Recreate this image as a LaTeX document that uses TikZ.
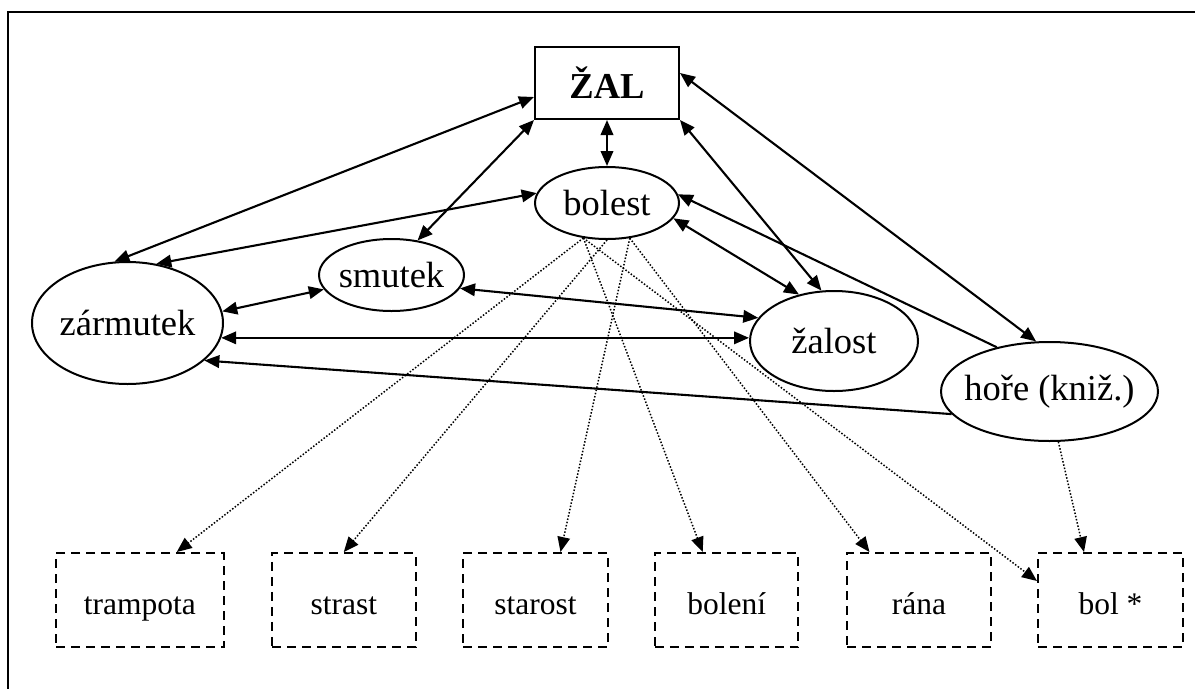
\documentclass[tikz,border=0pt]{standalone}
\usepackage{fontspec}
\setmainfont{Liberation Serif}
\usetikzlibrary{arrows.meta,shapes.geometric,calc}
\begin{document}
\begin{tikzpicture}[x=1pt,y=-1pt,
  tip/.style={-{Triangle[length=15pt,width=12.5pt]}},
  both/.style={{Triangle[length=15pt,width=12.5pt]}-{Triangle[length=15pt,width=12.5pt]}},
  conn/.style={line width=2.1pt},
  dot/.style={line width=1.5pt, dash pattern=on 1.5pt off 1.8pt},
  ell/.style={ellipse, draw, line width=2pt, inner sep=0pt, font=\fontsize{36.5}{40}\selectfont},
  wbox/.style={draw, line width=2pt, dash pattern=on 9pt off 6pt, minimum height=94pt, inner sep=0pt,
               text height=32pt, text depth=4pt, font=\fontsize{31.5}{34}\selectfont},
]
\useasboundingbox (0,0) rectangle (1195,689);
\draw[line width=2.2pt] (1195,12) -- (8,12) -- (8,689);

\node[draw, line width=2pt, minimum width=144pt, minimum height=72pt, inner sep=0pt,
      font=\bfseries\fontsize{36.5}{40}\selectfont] (zal) at (607,83) {ŽAL};
\node[ell, minimum width=144pt, minimum height=72pt] (bolest) at (607,203) {\makebox[0pt]{bolest}};
\node[ell, minimum width=145pt, minimum height=72pt] (smutek) at (391.5,275) {\makebox[0pt]{smutek}};
\node[ell, minimum width=191pt, minimum height=122pt] (zarm) at (127.5,323) {\makebox[0pt]{zármutek}};
\node[ell, minimum width=168pt, minimum height=100pt] (zalost) at (834,341) {\makebox[0pt]{\raisebox{-9pt}{žalost}}};
\node[ell, minimum width=217pt, minimum height=99pt] (hore) at (1049.5,391.5) {\makebox[0pt]{\raisebox{-13pt}{hoře (kniž.)}}};

\node[wbox, minimum width=167.5pt] (tramp) at (139.75,600) {trampota};
\node[wbox, minimum width=143.6pt] (strast) at (343.8,600) {strast};
\node[wbox, minimum width=145pt] (starost) at (535.5,600) {starost};
\node[wbox, minimum width=143.5pt] (boleni) at (726.7,600) {bolení};
\node[wbox, minimum width=144pt] (rana) at (919,600) {rána};
\node[wbox, minimum width=145pt] (bol) at (1110.5,600) {bol *};

\draw[conn,both] ([yshift=-14pt]zal.west) -- (zarm.102);
\draw[conn,both] (zal.south west) -- (smutek.53);
\draw[conn,both] (zal.south) -- (bolest.north);
\draw[conn,both] (zal.south east) -- (zalost.104);
\draw[conn,both] ([yshift=10pt]zal.east) -- (hore.105);
\draw[conn,both] (bolest.172) -- (zarm.64);
\draw[conn,both] (bolest.347) -- (zalost.127);
\draw[conn,tip] (hore.140) -- (bolest.7);
\draw[conn,both] (zarm.7) -- (smutek.192);
\draw[conn,both] (smutek.349) -- (zalost.163);
\draw[conn,both] (zarm.351) -- (zarm.351 -| zalost.west);
\draw[conn,tip] (hore.193) -- (zarm.334);

\draw[dot,tip] (bolest.236) -- ([xshift=37pt]tramp.north);
\draw[dot,tip] (bolest.270) -- (strast.north);
\draw[dot,tip] (bolest.303) -- ([xshift=25pt]starost.north);
\draw[dot,tip] (bolest.236) -- ([xshift=-24pt]boleni.north);
\draw[dot,tip] (bolest.303) -- ([xshift=-49.5pt]rana.north);
\draw[dot,tip] (bolest.236) -- ([yshift=19pt]bol.west);
\draw[dot,tip] (hore.280) -- ([xshift=-26.5pt]bol.north);
\end{tikzpicture}
\end{document}
